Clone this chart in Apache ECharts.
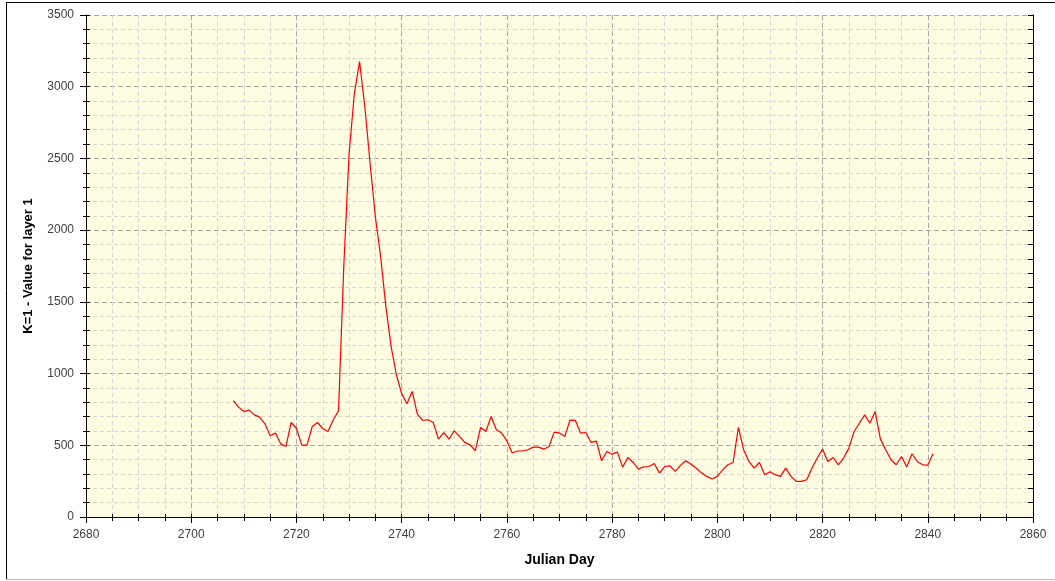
<!DOCTYPE html>
<html>
<head>
<meta charset="utf-8">
<script src="https://cdn.jsdelivr.net/npm/echarts@6/dist/echarts.min.js"></script>
<style>
  html, body { margin: 0; padding: 0; background: #fff; }
  #chart { width: 1055px; height: 581px; }
</style>
</head>
<body>
<div id="chart"></div>
<script>
// julian days of each sample
const days = [
  2708, 2709, 2710, 2711, 2712, 2713, 2714, 2715, 2716, 2717, 2718, 2719, 2720, 2721, 2722, 2723, 2724, 2725, 2726, 2727,
  2728, 2729, 2730, 2731, 2732, 2733, 2734, 2735, 2736, 2737, 2738, 2739, 2740, 2741, 2742, 2743, 2744, 2745, 2746, 2747,
  2748, 2749, 2750, 2751, 2752, 2753, 2754, 2755, 2756, 2757, 2758, 2759, 2760, 2761, 2762, 2763, 2764, 2765, 2766, 2767,
  2768, 2769, 2770, 2771, 2772, 2773, 2774, 2775, 2776, 2777, 2778, 2779, 2780, 2781, 2782, 2783, 2784, 2785, 2786, 2787,
  2788, 2789, 2790, 2791, 2792, 2793, 2794, 2795, 2796, 2797, 2798, 2799, 2800, 2801, 2802, 2803, 2804, 2805, 2806, 2807,
  2808, 2809, 2810, 2811, 2812, 2813, 2814, 2815, 2816, 2817, 2818, 2819, 2820, 2821, 2822, 2823, 2824, 2825, 2826, 2827,
  2828, 2829, 2830, 2831, 2832, 2833, 2834, 2835, 2836, 2837, 2838, 2839, 2840, 2841
]
// K=1 value for layer 1
const values = [
  812, 766, 735, 745, 712, 696, 650, 566, 585, 510, 492, 659, 617, 501, 501, 631, 659, 617, 596, 678,
  740, 1750, 2530, 2950, 3175, 2860, 2465, 2093, 1815, 1467, 1188, 990, 860, 790, 875, 715, 673, 678, 659, 543,
  589, 543, 601, 560, 520, 503, 462, 624, 596, 701, 608, 585, 531, 446, 460, 460, 469, 487, 487, 473,
  492, 592, 585, 561, 675, 674, 585, 589, 520, 529, 392, 457, 438, 452, 348, 415, 380, 334, 350, 352,
  373, 306, 352, 357, 318, 360, 392, 368, 340, 306, 283, 265, 283, 329, 364, 380, 624, 469, 387, 341,
  380, 295, 315, 295, 283, 341, 283, 248, 248, 260, 341, 411, 473, 387, 415, 364, 411, 480, 596, 654,
  712, 654, 735, 543, 469, 399, 364, 422, 348, 441, 387, 364, 362, 441
]

let chart = echarts.init(document.getElementById('chart'), null, {renderer: 'canvas'})

// plain numbers, no thousand separators
const labelStyle = {color: '#404040', fontSize: 12, fontFamily: 'Liberation Sans, Arial, sans-serif', formatter: v => String(v)}
const majorGrid = {show: true, lineStyle: {color: '#a8a8a8', type: [5, 3], width: 1}}
const minorGrid = {show: true, lineStyle: {color: '#d6d6d6', type: [4, 3], width: 1}}
const blackLine = {show: true, lineStyle: {color: '#000', width: 1}}

let option = {
  animation: false,
  backgroundColor: '#fff',
  grid: {left: 86, right: 22, top: 15, bottom: 64, show: true, backgroundColor: '#fffde1', borderWidth: 0},
  xAxis: [
    {
      type: 'value', min: 2680, max: 2860, interval: 20, position: 'bottom',
      name: 'Julian Day', nameLocation: 'middle', nameGap: 36,
      nameTextStyle: {color: '#000', fontSize: 14, fontWeight: 'bold', fontFamily: 'Liberation Sans, Arial, sans-serif'},
      axisLine: blackLine,
      axisTick: {show: true, inside: false, length: 6, lineStyle: {color: '#000'}},
      minorTick: {show: true, splitNumber: 4, length: 4, lineStyle: {color: '#000'}},
      axisLabel: Object.assign({margin: 12}, labelStyle),
      splitLine: majorGrid,
      minorSplitLine: minorGrid
    },
    {
      // inner half of the bottom ticks
      type: 'value', min: 2680, max: 2860, interval: 5, position: 'bottom',
      axisLine: {show: false},
      axisTick: {show: true, inside: true, length: 3, lineStyle: {color: '#000'}},
      axisLabel: {show: false}, splitLine: {show: false}
    },
    {
      type: 'value', min: 2680, max: 2860, interval: 5, position: 'top',
      axisLine: blackLine,
      axisTick: {show: true, inside: true, length: 4, lineStyle: {color: '#000'}},
      axisLabel: {show: false}, splitLine: {show: false}
    }
  ],
  yAxis: [
    {
      type: 'value', min: 0, max: 3500, interval: 500, position: 'left',
      name: 'K=1 - Value for layer 1', nameLocation: 'middle', nameGap: 51,
      nameTextStyle: {color: '#000', fontSize: 13, fontWeight: 'bold', fontFamily: 'Liberation Sans, Arial, sans-serif'},
      axisLine: blackLine,
      axisTick: {show: true, inside: false, length: 6, lineStyle: {color: '#000'}},
      minorTick: {show: true, splitNumber: 5, length: 3, lineStyle: {color: '#000'}},
      axisLabel: Object.assign({margin: 12}, labelStyle),
      splitLine: majorGrid,
      minorSplitLine: minorGrid
    },
    {
      type: 'value', min: 0, max: 3500, interval: 100, position: 'left',
      axisLine: {show: false},
      axisTick: {show: true, inside: true, length: 4, lineStyle: {color: '#000'}},
      axisLabel: {show: false}, splitLine: {show: false}
    },
    {
      type: 'value', min: 0, max: 3500, interval: 100, position: 'right',
      axisLine: blackLine,
      axisTick: {show: true, inside: true, length: 5, lineStyle: {color: '#000'}},
      axisLabel: {show: false}, splitLine: {show: false}
    }
  ],
  series: [
    {
      name: 'K=1 - Value for layer 1',
      type: 'line',
      data: days.map((d, i) => [d, values[i]]),
      showSymbol: false,
      lineStyle: {color: '#ff0000', width: 1.2},
      z: 5
    }
  ],
  graphic: [
    {type: 'line', shape: {x1: 6, y1: 2.5, x2: 1055, y2: 2.5}, style: {stroke: '#000', lineWidth: 1}, silent: true},
    {type: 'line', shape: {x1: 6.5, y1: 2, x2: 6.5, y2: 579}, style: {stroke: '#000', lineWidth: 1}, silent: true},
    {type: 'line', shape: {x1: 6, y1: 579.5, x2: 1055, y2: 579.5}, style: {stroke: '#b8b8b8', lineWidth: 1}, silent: true}
  ]
}

chart.setOption(option)
window.addEventListener('resize', () => {
  chart.resize()
})
</script>
</body>
</html>
